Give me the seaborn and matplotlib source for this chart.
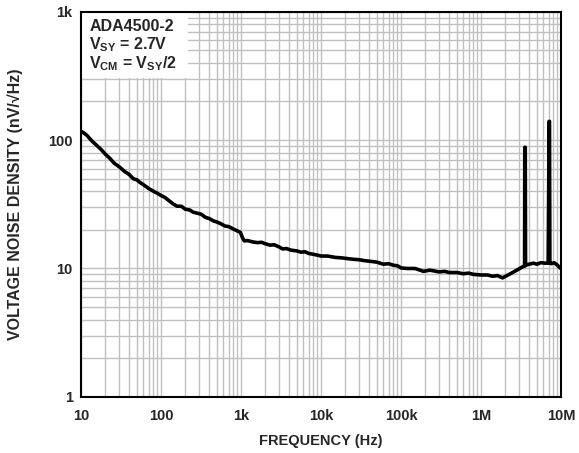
import numpy as np
import pandas as pd
import matplotlib
matplotlib.use("Agg")
import matplotlib.pyplot as plt
import seaborn as sns
from matplotlib.patches import Rectangle
from matplotlib.ticker import FixedLocator, LogLocator, NullFormatter

# Voltage noise density
freq_hz = [
    10, 11, 12, 13, 14, 16, 18, 20, 23, 26, 30, 35, 40, 45, 50, 54, 60, 70, 80, 90,
    100, 110, 120, 140, 158, 180, 200, 230, 250, 280, 316, 360, 400, 450, 500,
    560, 631, 700, 800, 900, 980,
    1050, 1100, 1200, 1400, 1600, 1800, 2000, 2300, 2600, 3000, 3300, 3700,
    4200, 5000, 5600, 6300, 7000, 8000, 9000,
    10e3, 12e3, 15e3, 18e3, 20e3, 25e3, 30e3, 35e3, 40e3, 50e3, 60e3, 70e3,
    80e3, 90e3, 100e3, 120e3,
    150e3, 190e3, 230e3, 300e3, 350e3, 400e3, 500e3, 600e3, 700e3, 800e3,
    1e6, 1.2e6, 1.4e6, 1.6e6, 1.86e6, 2.1e6, 2.4e6, 2.8e6, 3.3e6, 3.5e6,
    3.52e6, 3.57e6, 3.6e6, 4e6, 4.5e6, 5e6, 5.6e6, 6.3e6, 6.9e6, 7.1e6, 7.17e6,
    7.25e6, 7.6e6, 8.2e6, 9e6, 9.7e6, 10e6,
]
noise_nv = [
    117, 113, 108, 102, 97, 90, 84, 78, 72, 66, 62, 57, 54, 50, 49, 47, 45, 42, 40, 38.5,
    37, 36, 34.5, 32, 30.6, 30.5, 29, 28.5, 27.5, 27, 26.5, 25, 24.5, 23.5, 23,
    22.3, 21.4, 21.2, 20.3, 19.6, 19.1,
    17.2, 16.4, 16.5, 16.1, 15.9, 16.0, 15.6, 15.2, 15.3, 14.7, 14.2, 14.3,
    13.9, 13.7, 13.4, 13.5, 13.1, 12.9, 12.7,
    12.5, 12.5, 12.2, 12.1, 12.0, 11.8, 11.7, 11.5, 11.4, 11.2, 10.8, 10.9,
    10.6, 10.5, 10.1, 10.0,
    10.0, 9.5, 9.7, 9.4, 9.5, 9.3, 9.3, 9.1, 9.2, 9.0,
    8.9, 8.9, 8.7, 8.8, 8.45, 8.8, 9.2, 9.7, 10.3, 10.4,
    88, 88, 10.6, 10.8, 11.0, 10.8, 11.1, 11.0, 11.0, 140, 140,
    11.0, 10.9, 11.1, 10.6, 10.1, 10.0,
]

x_ticks = [10, 100, 1e3, 1e4, 1e5, 1e6, 1e7]
x_labels = ["10", "100", "1k", "10k", "100k", "1M", "10M"]
y_ticks = [1, 10, 100, 1000]
y_labels = ["1", "10", "100", "1k"]

df = pd.DataFrame({"freq": freq_hz, "noise": noise_nv})

sns.set_theme(style="white")
plt.rcParams["font.family"] = ["Liberation Sans", "DejaVu Sans"]
plt.rcParams["font.weight"] = "bold"
plt.rcParams["mathtext.fontset"] = "custom"
plt.rcParams["mathtext.rm"] = "Liberation Sans:bold"
plt.rcParams["mathtext.bf"] = "Liberation Sans:bold"
plt.rcParams["mathtext.it"] = "Liberation Sans:bold"
plt.rcParams["mathtext.default"] = "rm"

fig, ax = plt.subplots(figsize=(5.79, 4.53), dpi=100)
fig.subplots_adjust(left=0.14, right=0.969, top=0.974, bottom=0.124)

sns.lineplot(data=df, x="freq", y="noise", ax=ax, color="black", lw=2.6,
             estimator=None, sort=False, zorder=3)

ax.set_xscale("log")
ax.set_yscale("log")
ax.set_xlim(10, 1e7)
ax.set_ylim(1, 1000)

ax.xaxis.set_major_locator(FixedLocator(x_ticks))
ax.set_xticklabels(x_labels)
ax.yaxis.set_major_locator(FixedLocator(y_ticks))
ax.set_yticklabels(y_labels)
ax.xaxis.set_minor_locator(LogLocator(base=10, subs=np.arange(2, 10)))
ax.yaxis.set_minor_locator(LogLocator(base=10, subs=np.arange(2, 10)))
ax.xaxis.set_minor_formatter(NullFormatter())
ax.yaxis.set_minor_formatter(NullFormatter())

ax.grid(True, which="both", color="#c0c0c0", lw=1.0)
ax.set_axisbelow(True)
ax.tick_params(which="both", length=0, labelsize=10.5)
ax.tick_params(axis="x", pad=9)
ax.tick_params(axis="y", pad=6)
for lab in ax.get_xticklabels() + ax.get_yticklabels():
    lab.set_fontweight("bold")
for sp in ax.spines.values():
    sp.set_color("black")
    sp.set_linewidth(1.5)
    sp.set_zorder(5)

ax.set_xlabel("FREQUENCY (Hz)", fontsize=10.5, fontweight="bold", labelpad=8)
ax.set_ylabel("VOLTAGE NOISE DENSITY (nV/\u221aHz)", fontsize=11.5,
              fontweight="bold", labelpad=18)

# white patch behind the condition notes
ax.add_patch(Rectangle((0, 0.829), 0.223, 0.171, transform=ax.transAxes,
                       facecolor="white", edgecolor="none", zorder=1))
notes = ["ADA4500-2", "$V_{SY}$ = 2.7V", "$V_{CM}$ = $V_{SY}$/2"]
for i, note in enumerate(notes):
    ax.text(0.017, 0.951 - i * 0.049, note, transform=ax.transAxes,
            ha="left", va="baseline", fontsize=11.5, fontweight="bold", zorder=4)

fig.savefig("out.png", dpi=100)
